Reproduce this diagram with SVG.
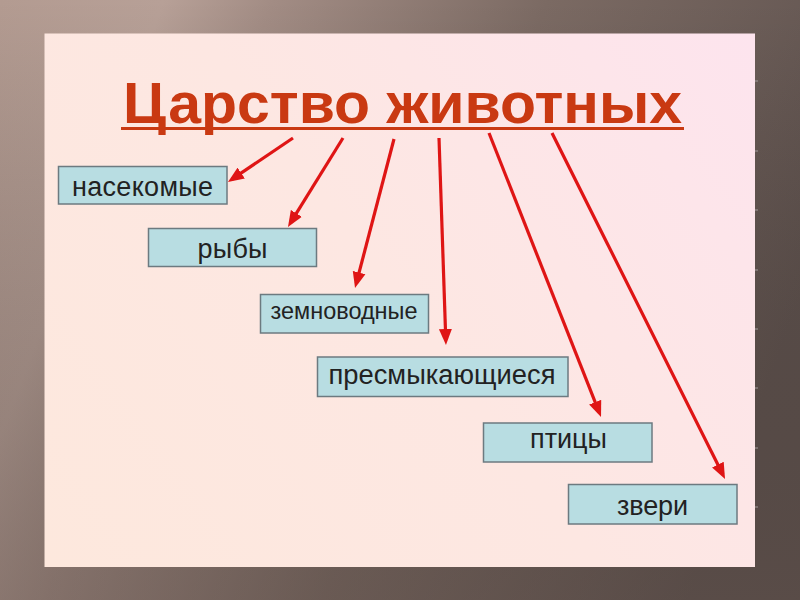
<svg xmlns="http://www.w3.org/2000/svg" width="800" height="600" viewBox="0 0 800 600">
  <defs>
    <linearGradient id="bg" x1="0" y1="0" x2="800" y2="300" gradientUnits="userSpaceOnUse">
      <stop offset="0" stop-color="#b39b91"/>
      <stop offset="0.18" stop-color="#b7a097"/>
      <stop offset="0.3" stop-color="#a28c84"/>
      <stop offset="0.6" stop-color="#7b6a63"/>
      <stop offset="1" stop-color="#615450"/>
    </linearGradient>
    <linearGradient id="bgv" x1="0" y1="0" x2="0" y2="600" gradientUnits="userSpaceOnUse">
      <stop offset="0" stop-color="#000" stop-opacity="0"/>
      <stop offset="1" stop-color="#4a3d38" stop-opacity="0.35"/>
    </linearGradient>
    <linearGradient id="panel" x1="45" y1="567" x2="755" y2="33" gradientUnits="userSpaceOnUse">
      <stop offset="0" stop-color="#fde8dd"/>
      <stop offset="0.5" stop-color="#fde7e2"/>
      <stop offset="1" stop-color="#fde4ee"/>
    </linearGradient>
    <marker id="ah" viewBox="0 -7 16 14" refX="11" refY="0" markerWidth="16" markerHeight="14" markerUnits="userSpaceOnUse" orient="auto">
      <path d="M0,-6.5 L16,0 L0,6.5 z" fill="#df1515"/>
    </marker>
    <style>
      .box { fill: #b8dde2; stroke: #6c7a80; stroke-width: 1.5; }
      .lbl { font-family: "Liberation Sans", Arial, sans-serif; font-size: 27px; fill: #222; text-anchor: middle; }
      .arr { stroke: #df1515; stroke-width: 3.2; fill: none; marker-end: url(#ah); }
      .tick { stroke: #a09898; stroke-width: 1; }
    </style>
  </defs>

  <rect x="0" y="0" width="800" height="600" fill="url(#bg)"/>
  <rect x="0" y="0" width="800" height="600" fill="url(#bgv)"/>

  <rect x="44.5" y="33.5" width="710.5" height="533.5" fill="url(#panel)"/>
  <g>
    <line class="tick" x1="755" y1="81" x2="758" y2="81"/>
    <line class="tick" x1="755" y1="151" x2="758" y2="151"/>
    <line class="tick" x1="755" y1="210" x2="758" y2="210"/>
    <line class="tick" x1="755" y1="270" x2="758" y2="270"/>
    <line class="tick" x1="755" y1="329" x2="758" y2="329"/>
    <line class="tick" x1="755" y1="388" x2="758" y2="388"/>
    <line class="tick" x1="755" y1="448" x2="758" y2="448"/>
    <line class="tick" x1="755" y1="507" x2="758" y2="507"/>
  </g>

  <g id="title">
    <text x="402.5" y="123" text-anchor="middle" font-family="'Liberation Sans', Arial, sans-serif" font-weight="bold" font-size="57" fill="#c93912" textLength="559" lengthAdjust="spacingAndGlyphs">Царство животных</text>
    <line x1="121" y1="128.5" x2="684" y2="128.5" stroke="#c93912" stroke-width="3"/>
  </g>

  <g id="connectors">
    <line class="arr" x1="293" y1="138" x2="232.1" y2="179.2"/>
    <line class="arr" x1="343" y1="138" x2="290.6" y2="222.7"/>
    <line class="arr" x1="394" y1="139" x2="356.3" y2="283.2"/>
    <line class="arr" x1="439" y1="138" x2="445.8" y2="340.0"/>
    <line class="arr" x1="489" y1="133" x2="599.2" y2="412.4"/>
    <line class="arr" x1="552" y1="133" x2="722.8" y2="474.5"/>
  </g>

  <g id="insects">
    <rect class="box" x="58.5" y="166.5" width="168.5" height="37.5"/>
    <text class="lbl" x="142.5" y="196" textLength="141" lengthAdjust="spacing">насекомые</text>
  </g>
  <g id="fish">
    <rect class="box" x="148.5" y="228.5" width="168" height="38"/>
    <text class="lbl" x="232.5" y="258" textLength="70" lengthAdjust="spacing">рыбы</text>
  </g>
  <g id="amphibians">
    <rect class="box" x="260.5" y="294.5" width="168" height="38.5"/>
    <text class="lbl" x="344" y="319" style="font-size:23px" textLength="147" lengthAdjust="spacingAndGlyphs">земноводные</text>
  </g>
  <g id="reptiles">
    <rect class="box" x="317.5" y="357" width="250.5" height="39.5"/>
    <text class="lbl" x="442" y="384" textLength="227" lengthAdjust="spacingAndGlyphs">пресмыкающиеся</text>
  </g>
  <g id="birds">
    <rect class="box" x="483.5" y="423" width="168.5" height="39"/>
    <text class="lbl" x="568.5" y="448" textLength="77" lengthAdjust="spacing">птицы</text>
  </g>
  <g id="mammals">
    <rect class="box" x="568.5" y="484.5" width="168.5" height="39.5"/>
    <text class="lbl" x="652.5" y="515" textLength="71" lengthAdjust="spacing">звери</text>
  </g>
</svg>
